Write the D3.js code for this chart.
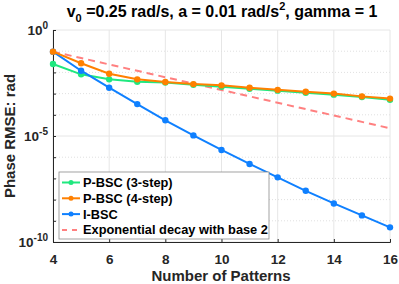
<!DOCTYPE html>
<html><head><meta charset="utf-8">
<script src="https://cdn.jsdelivr.net/npm/d3@7"></script>
<style>body{margin:0;background:#fff}svg{display:block;font-family:"Liberation Sans",Arial,sans-serif;font-weight:bold}</style>
</head><body><svg id="c" width="399" height="284"></svg>
<script>
const patterns = [4,5,6,7,8,9,10,11,12,13,14,15,16];
const pbsc3 = [2.5e-2,8.1e-3,4.7e-3,3.6e-3,3.3e-3,2.6e-3,2.1e-3,1.7e-3,1.38e-3,1.1e-3,8.9e-4,6.9e-4,5.1e-4];
const pbsc4 = [9.5e-2,2.7e-2,8.7e-3,4.7e-3,3.5e-3,2.8e-3,2.45e-3,1.9e-3,1.5e-3,1.23e-3,1.0e-3,7.4e-4,5.8e-4];
const ibsc = [9.5e-2,1.2e-2,1.9e-3,3.2e-4,5.5e-5,1.07e-5,2.2e-6,4.8e-7,1.12e-7,2.6e-8,6.6e-9,1.8e-9,4.9e-10];
const expDecay = [9.5e-2,4.75e-2,2.375e-2,1.1875e-2,5.94e-3,2.97e-3,1.484e-3,7.42e-4,3.71e-4,1.855e-4,9.28e-5,4.64e-5,2.32e-5];
const xTicks = [4,6,8,10,12,14,16];
const yTickExps = [0,-5,-10];
const seriesNames = ["P-BSC (3-step)","P-BSC (4-step)","I-BSC","Exponential decay with base 2"];

const svg = d3.select("#c");
const m = {l:53, r:390, t:30, b:242};
const x = d3.scaleLinear().domain([4,16]).range([m.l,m.r]);
const y = d3.scaleLog().domain([1e-10,1]).range([m.b,m.t]);

// grid
const g = svg.append("g");
xTicks.forEach(v=>g.append("line").attr("x1",x(v)).attr("x2",x(v)).attr("y1",m.t).attr("y2",m.b).attr("stroke","#e6e6e6").attr("stroke-width",1));
for(let e=-9;e<=-1;e++){ if(e===-5) continue;
  g.append("line").attr("x1",m.l).attr("x2",m.r).attr("y1",y(Math.pow(10,e))).attr("y2",y(Math.pow(10,e))).attr("stroke","#e0e0e0").attr("stroke-dasharray","1,2");}
yTickExps.forEach(e=>g.append("line").attr("x1",m.l).attr("x2",m.r).attr("y1",y(Math.pow(10,e))).attr("y2",y(Math.pow(10,e))).attr("stroke","#e6e6e6"));

// axes
const xa = svg.append("g").attr("transform",`translate(0,${m.b})`).call(d3.axisBottom(x).tickValues(xTicks).tickSize(-3).tickPadding(12).tickFormat(d3.format("d")));
xa.select(".domain").attr("stroke","#262626");
xa.selectAll(".tick line").attr("stroke","#262626");
xa.selectAll("text").attr("font-size",13.5).attr("font-family","Liberation Sans, Arial").attr("font-weight","bold").attr("fill","#262626");
const ya = svg.append("g").attr("transform",`translate(${m.l},0)`).call(d3.axisLeft(y).tickValues(d3.range(-10,1).map(e=>Math.pow(10,e))).tickSize(-3).tickFormat(""));
ya.select(".domain").attr("stroke","#262626");
ya.selectAll(".tick line").attr("stroke","#262626");
yTickExps.forEach(e=>{
  const t = svg.append("text").attr("x",m.l-5).attr("y",y(Math.pow(10,e))+5).attr("text-anchor","end").attr("font-size",13.5).attr("fill","#262626");
  t.append("tspan").text("10");
  t.append("tspan").attr("dy",-6).attr("font-size",10).text(e);
});

// series
const line = d3.line().x((d,i)=>x(patterns[i])).y(d=>y(d));
const data = [
  {v:expDecay, c:"#ff8080", dash:"7,5", marker:false},
  {v:pbsc3, c:"#1fe87f", marker:true},
  {v:ibsc, c:"#0f80ff", marker:true},
  {v:pbsc4, c:"#ff8000", marker:true}
];
data.forEach(s=>{
  svg.append("path").attr("d",line(s.v)).attr("fill","none").attr("stroke",s.c).attr("stroke-width",2).attr("stroke-dasharray",s.dash||null);
  if(s.marker) svg.selectAll(null).data(s.v).enter().append("circle").attr("cx",(d,i)=>x(patterns[i])).attr("cy",d=>y(d)).attr("r",3.2).attr("fill",s.c);
});

// title
const tt = svg.append("text").attr("x",222).attr("y",17).attr("text-anchor","middle").attr("font-size",16).attr("fill","#000");
tt.append("tspan").text("v");
tt.append("tspan").attr("dy",5).attr("font-size",11).text("0");
tt.append("tspan").attr("dy",-5).text(" =0.25 rad/s, a = 0.01 rad/s");
tt.append("tspan").attr("dy",-7).attr("font-size",11).text("2");
tt.append("tspan").attr("dy",7).text(", gamma = 1");

// axis labels
svg.append("text").attr("x",221).attr("y",281).attr("text-anchor","middle").attr("font-size",15).attr("fill","#262626").text("Number of Patterns");
svg.append("text").attr("transform",`translate(15,${(m.t+m.b)/2}) rotate(-90)`).attr("text-anchor","middle").attr("font-size",15).attr("fill","#262626").text("Phase RMSE: rad");

// legend
const lg = svg.append("g");
lg.append("rect").attr("x",59).attr("y",172).attr("width",210).attr("height",67).attr("fill","#fff").attr("stroke","#8c8c8c").attr("stroke-width",0.8);
const legColors = ["#1fe87f","#ff8000","#0f80ff","#ff8080"];
seriesNames.forEach((n,i)=>{
  const yy = 182.5 + i*15.8;
  lg.append("line").attr("x1",62).attr("x2",80).attr("y1",yy).attr("y2",yy).attr("stroke",legColors[i]).attr("stroke-width",2).attr("stroke-dasharray",i===3?"5,5":null);
  if(i<3) lg.append("circle").attr("cx",71).attr("cy",yy).attr("r",2.5).attr("fill",legColors[i]);
  lg.append("text").attr("x",83).attr("y",yy+4.5).attr("font-size",12.8).attr("fill","#000").text(n);
});
</script></body></html>
